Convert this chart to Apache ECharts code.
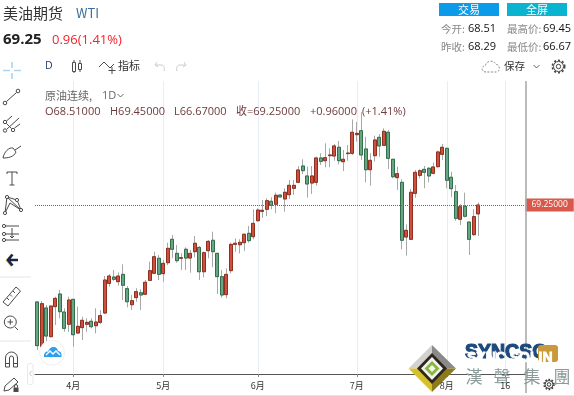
<!DOCTYPE html>
<html><head><meta charset="utf-8">
<style>html,body{margin:0;padding:0;background:#fff}#c{width:574px;height:396px}</style>
<script src="https://cdn.jsdelivr.net/npm/echarts@6/dist/echarts.min.js"></script>
</head><body><div id="c"></div>
<script>
const opens=[61.17,57.45,60.67,58.28,60.78,61.83,60.33,59.31,61.39,58.58,59.03,59.31,59.56,59.19,59.47,60.25,62.72,63.25,62.86,63.47,62.28,60.94,61.53,61.94,61.81,62.97,63.56,64.81,63.53,64.44,66.39,65.22,64.81,65.56,64.83,65.36,65.72,63.69,65.44,66.31,65.22,63.28,61.78,63.78,65.97,65.94,66.11,66.89,66.61,67.94,68.72,68.89,69.56,69.31,70.08,69.75,70.11,70.64,71.14,72.5,71.67,71.08,71.14,73.17,72.94,73.36,73.33,74.06,72.86,73.53,73.56,75.11,75.44,73.92,72.19,73.36,74.89,74.22,75.31,73.06,71.53,71.14,66.58,66.39,70.22,71.72,72.22,72.31,71.89,72.44,73.47,73.97,71.56,70.36,68.06,69.14,67.83,66.78,68.51];
const closes=[57.53,61.03,58.33,60.83,61.47,60.36,58.97,61.33,58.44,59.14,59.64,59.47,59.11,59.5,60.03,63,63.33,63.06,63.33,62.56,61.19,61.28,62.03,61.75,62.81,63.78,64.94,63.47,64.39,65.64,65.56,64.61,64.86,64.83,65.22,66.06,63.69,65.28,66.22,65.36,63.28,61.75,63.47,65.97,66.06,66.14,66.81,66.28,67.72,68.83,68.81,69.61,69.22,70.06,69.92,70.31,70.89,70.89,72.17,72.11,71,71.67,73.17,72.89,73.19,73.42,74.17,72.94,73.06,73.58,75.31,75.22,73.42,72.19,72.97,74.67,74.17,75.39,73.14,71.61,71.86,66.31,67.14,70.31,71.97,72.11,71.97,71.67,72.42,73.67,74.06,71.31,70.61,68.14,69.11,68.31,66.39,68.28,69.25];
const lows=[57.17,57.17,57.86,58.22,59.25,59.81,58.69,58.69,57.44,58.5,58,58.69,58.97,58.56,59.33,60.17,62.44,62.92,62.53,61.33,60.72,60.5,61.19,60.5,61.75,62.92,63.5,63,62.86,64.25,64.81,64.44,63.83,63.83,63.61,64.89,63,63.22,64.81,64.06,61.83,61.53,61.47,63.56,65.36,65.22,65.42,66.11,66.39,67.86,68.19,68.33,68.89,68.56,69.89,68.69,69.75,70.08,71.06,71.83,69.86,70.17,70.86,72.58,72.39,72.39,72.94,72.64,72.08,72.94,73.42,74.53,73,71.14,70.86,72.86,73.28,74.17,72.25,71.47,70.5,65.56,65.03,66.33,69.86,71.47,70.64,71.14,71.81,72.39,73,70.64,69.94,67.94,67.58,68.22,65.08,66.67,66.67];
const highs=[61.2,61.25,60.92,60.85,61.61,62.17,60.64,61.61,61.42,60.78,59.94,59.81,59.81,60.64,60.5,63.33,63.5,63.83,63.61,64.31,62.5,61.75,62.31,62.22,63,64.53,65.36,65.08,64.67,66.11,66.75,65.92,65.22,65.72,65.5,66.67,65.83,65.36,66.33,67.03,65.28,63.83,63.97,66.11,66.47,66.39,66.89,67.5,68.89,68.97,69.67,69.81,69.89,70.28,70.11,70.64,71.33,71.33,72.5,73.06,72.44,72.5,73.28,73.56,74.39,73.97,74.33,74.58,73.83,74.25,76.38,76.17,76.98,74.94,73.56,75.03,75.17,75.64,75.5,73.08,72.44,71.39,67.64,70.58,72.17,72.22,72.5,72.39,72.78,73.78,74.33,74.03,72.03,70.92,69.33,70.28,67.86,68.92,69.45];
const categories=Array.from({length:109},(_,i)=>String(i));
const tickIndex=[8,28,49,71,91,104];
const tickText=['4月','5月','6月','7月','8月','16'];
const lastClose=69.25;
const legendO='O68.51000',legendH='H69.45000',legendL='L66.67000',legendC='收=69.25000',legendD='+0.96000',legendP='(+1.41%)';

const CJK='"Noto Sans CJK SC","Noto Sans",sans-serif';
const OS='"Open Sans","Noto Sans CJK SC",sans-serif';
function T(text,x,y,size,fill,o){o=o||{};return {type:'text',z:o.z||20,silent:true,style:{text:text,x:x,y:y,fontSize:size,fontFamily:o.ff||CJK,fontWeight:o.w||'normal',fill:fill,align:o.a||'left',verticalAlign:'middle',stroke:o.stroke||null,lineWidth:o.lw||0}};}
let pathId=0;
function P(d,stroke,lw,fill,o){o=o||{};const name='iconPath'+(pathId++);echarts.graphic.registerShape(name,echarts.graphic.extendPath(d,{}));return {type:name,z:o.z||20,silent:true,shape:{},style:{stroke:stroke||null,lineWidth:lw||1,fill:fill||null,lineDash:o.dash||null}};}
function C(x,y,r,stroke,lw,fill,o){o=o||{};return {type:'circle',z:o.z||20,silent:true,shape:{cx:x,cy:y,r:r},style:{stroke:stroke||null,lineWidth:lw||1,fill:fill||null,lineDash:o.dash||null}};}
function R(x,y,w,h,fill,o){o=o||{};return {type:'rect',z:o.z||20,silent:true,shape:{x:x,y:y,width:w,height:h,r:o.r||0},style:{fill:fill,stroke:o.stroke||null,lineWidth:o.lw||1}};}
const ic='#4a4a4a';
const g=[
 T('美油期货',3,13,15,'#333'),T('WTI',76,13.5,13,'#3d6f9e'),
 T('69.25',3,40,15,'#222',{w:'bold',ff:OS}),T('0.96(1.41%)',52,40.5,13,'#f5222d',{ff:OS}),
 R(439,3,60,13,'#0b9be8'),R(507,3,60,13,'#0ab3cf'),
 T('交易',469,9.5,11,'#fff',{a:'center'}),T('全屏',537,9.5,11,'#fff',{a:'center'}),
 T('今开:',441,29,10.5,'#888'),T('68.51',468,29,11,'#111',{ff:OS}),
 T('最高价:',507,29,10.5,'#888'),T('69.45',543,29,11,'#111',{ff:OS}),
 T('昨收:',441,47,10.5,'#888'),T('68.29',468,47,11,'#111',{ff:OS}),
 T('最低价:',507,47,10.5,'#888'),T('66.67',543,47,11,'#111',{ff:OS}),
 T('D',45,66,10.5,'#1d3f66',{ff:OS}),
 P('M74 60V73M80 60V72',ic,1),R(72.5,62.5,3,9,'#fff',{stroke:ic}),R(78.5,63.5,3,6,'#fff',{stroke:ic}),
 P('M99 67L104 62L110 68L114 64M112 67V74M108.5 70.5H115.5',ic,1),
 T('指标',118,66,11,'#333'),
 P('M157 62L155 65L158 67M155.5 65H161C164 65 165 68 164 71','#ccc',1),
 P('M184 62L186 65L183 67M185.5 65H180C177 65 176 68 177 71','#ccc',1),
 P('M486 72C481 72 481 66 485.5 65.5C486 61 494 59 496 64.5C500 64 501 72 496 72Z','#888',1,null,{dash:[2,1.5]}),
 T('保存',504,66.5,10.5,'#333'),
 P('M533.5 65L536.5 68L539.5 65','#666',1),
 C(558.5,66.5,2.2,'#444',1),C(558.5,66.5,5,'#444',1),C(558.5,66.5,6.2,'#444',1.6,null,{dash:[2,2]}),
 T('原油连续,',45,96,11,'#666'),T('1D',102,96,11,'#666',{ff:OS}),P('M117.5 94L120.5 97L123.5 94','#666',1),
 T(legendO,45,112,11,'#6e3b3b',{ff:OS}),T(legendH,110,112,11,'#6e3b3b',{ff:OS}),T(legendL,174,112,11,'#6e3b3b',{ff:OS}),
 T(legendC,236,112,11,'#6e3b3b',{ff:OS}),T(legendD,310,112,11,'#6e3b3b',{ff:OS}),T(legendP,362,112,11,'#6e3b3b',{ff:OS}),
 P('M12 62V68M12 73V79M3 70.5H10M14 70.5H21','#a8d5f5',1.6),
 P('M6.5 101.5L16.5 92.5',ic,1),C(5,103,1.8,ic,1),C(18,91,1.8,ic,1),
 P('M6.5 121L12 116M7 129L19 118M14.5 128L20 124M6.5 123.5L11.5 128.5',ic,1),C(5,122,1.7,ic,1),C(5,130.5,1.7,ic,1),C(13,130,1.7,ic,1),
 P('M3 158C4 152 9 147 13 148L16 152C14 157 8 158 3 158ZM15 150L21 146',ic,1),
 P('M7 174V172H17V174M12 172V185M9.5 185H14.5',ic,1),
 P('M7 197L17 200L21 210L10 203L5 213L7 197M7 197L21 210',ic,1),C(7,197,1.6,ic,1,'#fff'),C(17,200,1.6,ic,1,'#fff'),C(21,210,1.6,ic,1,'#fff'),C(5,213,1.6,ic,1,'#fff'),
 P('M5 226H19M5 234H19M5 240H19M12 228V238M10 236L12 238L14 236',ic,1),C(4,226,1.6,ic,1,'#fff'),C(4,234,1.6,ic,1,'#fff'),C(4,240,1.6,ic,1,'#fff'),
 P('M11.5 255L7 260.5L11.5 266','#f0a030',2),P('M12.5 254.5L8 260L12.5 265.5M8 260H18','#14264a',2.6),
 P('M0 277H31M0 341H31','#e6e6ee',1),
 P('M3 302L16 287L20.5 291L8 306ZM7 298L9 300M10 294.5L12 296.5M13 291L15 293',ic,1),
 C(10.3,322,6,ic,1),P('M15 327L18 330M7.5 322H13M10.3 319.3V324.7',ic,1),
 P('M5.5 367V358A6 6 0 0 1 17.5 358V367H13.5V358A2 2 0 0 0 9.5 358V367ZM5.5 363.5H9.5M13.5 363.5H17.5',ic,1),
 P('M4 391L5 386L14 378L18 382L9 390Z',ic,1),R(13.5,387.5,5,4.5,ic),P('M14.5 387.5V386A1.5 1.5 0 0 1 17.5 386V387.5',ic,1),
 R(27.5,363.5,5.5,21,'#fff',{stroke:'#e8e8e8',r:2}),P('M31.5 371L29.5 373.5L31.5 376','#c4c4c4',1),
 C(52,352.7,12.5,'#efefef',1,'#fff'),
 P('M44 357Q43.5 351.5 48 351.5Q50 346.5 54 347Q57 347 58 351Q62 351 61.5 357Z',null,1,'#2b9ff0'),
 P('M46 355L50 351L53 354L56 351L60 355','#fff',1.4),
 P('M526 81V393','#aaaaaa',1.6),P('M0 395.5H574','#e6e6e6',1),
 P('M432 345L456 368.5L432 368.5Z',null,1,'#8a8a86',{z:30}),P('M432 345L408.5 368.5L432 368.5Z',null,1,'#d2d2ce',{z:30}),
 P('M408.5 368.5L432 368.5L432 392Z',null,1,'#d8c028',{z:30}),P('M456 368.5L432 368.5L432 392Z',null,1,'#8d7a1a',{z:30}),
 P('M432 353L447 368.5L432 384L417 368.5Z',null,1,'#2e261e',{z:30}),
 P('M432 357L443 368.5L432 380L421 368.5Z',null,1,'#f2f2f0',{z:30}),
 P('M432 361L439.5 368.5L432 376L424.5 368.5Z',null,1,'#86b83a',{z:30}),
 P('M432 365L435.5 368.5L432 372L428.5 368.5Z',null,1,'#f7f7f2',{z:30}),
 T('SYNCSO',465,352.5,19.5,'#1c4a7c',{w:'bold',ff:'"Liberation Sans",sans-serif',z:30,stroke:'#1c4a7c',lw:1.2}),
 R(538,345,20,17,'#c89a3a',{r:3,z:31}),
 T('SYNC SOLIN',467,358.5,14,'#fff',{w:'bold',ff:'"Liberation Sans",sans-serif',z:32,stroke:'#fff',lw:0.8}),
 T('漢',474,377,17,'#8c9a9a',{a:'center',z:30}),T('聲',502,377,17,'#8c9a9a',{a:'center',z:30}),
 T('集',532,377,17,'#8c9a9a',{a:'center',z:30}),T('團',562,377,17,'#8c9a9a',{a:'center',z:30}),
 C(549,384.5,1.8,'#333',1,null,{z:33}),C(549,384.5,4,'#333',1,null,{z:33}),C(549,384.5,5,'#333',1.4,null,{dash:[1.6,1.6],z:33})
];
const wickData=opens.map((o,i)=>[o,closes[i],lows[i],highs[i]]);
const bodyData=opens.map((o,i)=>[o,closes[i],Math.min(o,closes[i]),Math.max(o,closes[i])]);
const labelAt=i=>tickIndex.indexOf(i)>=0;
const chart=echarts.init(document.getElementById('c'),null,{renderer:'canvas'});
chart.setOption({
 animation:false,backgroundColor:'#fff',
 grid:{left:35,top:81,width:490.5,height:293},
 xAxis:[
  {type:'category',data:categories,position:'bottom',z:1,boundaryGap:true,
   axisLine:{show:true,onZero:false,lineStyle:{color:'#555',width:1}},
   axisTick:{show:true,alignWithLabel:true,interval:labelAt,length:3,lineStyle:{color:'#888'}},
   axisLabel:{show:false},
   splitLine:{show:true,alignWithLabel:true,interval:labelAt,lineStyle:{color:'#e6edf5',width:1}}},
  {type:'category',data:categories,position:'bottom',z:40,boundaryGap:true,
   axisLine:{show:false,onZero:false},axisTick:{show:false},splitLine:{show:false},
   axisLabel:{show:true,interval:labelAt,margin:7,fontSize:9,fontFamily:CJK,color:'#333',hideOverlap:false,
    formatter:(v,i)=>{const k=tickIndex.indexOf(i);return k>=0?tickText[k]:'';}}}
 ],
 yAxis:{type:'value',min:55.167,max:79.583,show:false,scale:true,splitLine:{show:false}},
 graphic:{elements:g},
 series:[
  {type:'candlestick',data:wickData,barWidth:3.8,z:2,xAxisIndex:0,
   itemStyle:{color:'#a8a8a8',color0:'#a8a8a8',borderColor:'#a8a8a8',borderColor0:'#a8a8a8',borderWidth:1},
   markLine:{silent:true,symbol:'none',animation:false,
    lineStyle:{color:'#c8453a',type:'dotted',width:1},
    data:[{yAxis:lastClose}],
    label:{show:true,position:'end',distance:0,formatter:()=>lastClose.toFixed(5),color:'#fff',backgroundColor:'#d9584a',fontSize:8.5,fontFamily:OS,padding:[2,6,2,6],lineHeight:9}}},
  {type:'candlestick',data:bodyData,barWidth:3.8,z:3,xAxisIndex:0,
   itemStyle:{color:'#cf4f3d',color0:'#6aa583',borderColor:'#8e2f22',borderColor0:'#2f6f4c',borderWidth:1}}
 ]
});
</script></body></html>
